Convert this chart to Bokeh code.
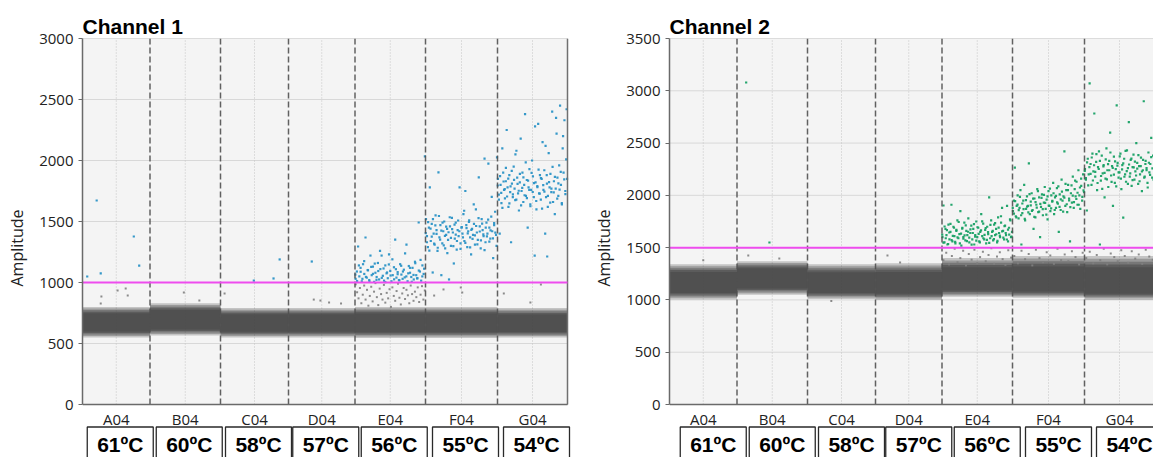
import numpy as np
from bokeh.plotting import figure
from bokeh.models import Range1d, FixedTicker, ColumnDataSource
from bokeh.layouts import row
from bokeh.embed import file_html
from bokeh.resources import INLINE
from bokeh.core.properties import value

# ---------------- data ----------------
wells = ["A04", "B04", "C04", "D04", "E04", "F04", "G04"]
temps = ["61ºC", "60ºC", "58ºC", "57ºC", "56ºC", "55ºC", "54ºC"]
droplets = [13500, 14100, 13600, 13300, 14100, 14400, 14000]

# Channel 1 negative droplet band (amplitude)
ch1_neg_center = [670, 690, 665, 665, 665, 665, 660]
ch1_neg_low = [550, 565, 550, 550, 545, 545, 550]
ch1_neg_high = [800, 830, 790, 790, 800, 800, 790]
ch1_threshold = 1000

# Channel 1 positive droplets (amplitudes, left-to-right in event order; two read passes)
ch1_E04_pos = [1030, 1090, 1295, 1050, 1120, 1010, 1150, 1070, 1369, 1040, 1100, 1020, 1221, 1060,
               1130, 1005, 1080, 1045, 1160, 1025, 1110, 1221, 1055, 1015, 1140, 1075, 1035, 1230,
               1095, 1010, 1060, 1125, 1352, 1040, 1085, 1020, 1150, 1065, 1030, 1105, 1238, 1050,
               1010, 1135, 1080, 1045, 1120, 1025, 1170, 1060, 1035, 1492, 1090, 1015, 1140, 1070, 2033]
ch1_E04_pos_b = [1065, 1012, 1140, 1088, 1030, 1175, 1046, 1102, 1008, 1128, 1071, 1155, 1022, 1094,
                 1260, 1038, 1115, 1003, 1082, 1148, 1057, 1190, 1026, 1109, 1068, 1018, 1137, 1090,
                 1042, 1310, 1075, 1120, 1006, 1062, 1158, 1034, 1098, 1185, 1050, 1113]
ch1_F04_pos = [1520, 1380, 1290, 1450, 1779, 1340, 1480, 1082, 1400, 1310, 1550, 1430, 1260, 1902,
               1370, 1470, 1060, 1320, 1420, 1500, 1280, 1390, 1440, 1350, 1025, 1460, 1300, 1530,
               1410, 1156, 1360, 1490, 1270, 1430, 1380, 1779, 1320, 1450, 1400, 1560, 1340, 1750,
               1470, 1290, 1420, 1510, 1370, 1230, 1440, 1390, 1480, 1310, 1600, 1410, 1350, 1861,
               1460, 1280, 1520, 1430, 1380, 2016, 1330, 1490, 1400, 1975, 1450, 1360, 1540, 1420,
               1200, 1470, 1580, 1390, 2025]
ch1_F04_pos_b = [1405, 1330, 1495, 1262, 1442, 1376, 1520, 1318, 1468, 1398, 1285, 1545, 1352, 1426,
                 1490, 1305, 1382, 1458, 1240, 1412, 1535, 1366, 1438, 1298, 1475, 1392, 1340, 1508,
                 1420, 1275, 1454, 1370, 1588, 1325, 1446, 1402, 1497, 1288, 1432, 1358, 1640, 1386,
                 1463, 1312, 1528, 1418, 1345, 1482, 1395, 1266, 1450, 1378, 1515, 1335, 1428, 1702,
                 1362, 1486, 1408, 1300]
ch1_G04_pos = [1850, 1720, 1400, 1800, 1650, 2100, 1900, 1760, 1690, 1830, 2250, 1780, 1620, 1880,
               1740, 1330, 1810, 1700, 1950, 1770, 2050, 1680, 1860, 1730, 1590, 1820, 2180, 1750,
               1900, 1660, 1800, 2380, 1710, 1840, 1450, 1780, 1930, 1640, 1760, 2000, 1870, 1700,
               1221, 1820, 1600, 1790, 2300, 1730, 1880, 1680, 1850, 2150, 1760, 1920, 1400, 1700,
               1810, 1620, 2060, 1780, 1890, 1740, 2400, 1660, 1830, 1560, 1770, 2220, 1860, 1710,
               1960, 2450, 1800, 1650, 2100, 1900, 2330, 1750, 2010, 1850]
ch1_G04_pos_b = [1795, 1680, 1872, 1735, 1612, 1828, 1766, 1940, 1705, 1852, 1648, 1788, 1915, 1722,
                 1842, 1675, 2080, 1808, 1752, 1890, 1632, 1776, 1862, 1715, 1985, 1692, 1835, 1760,
                 1625, 1898, 1742, 1815, 2280, 1668, 1782, 1925, 1728, 1855, 1605, 1798, 1745, 2120,
                 1880, 1710, 1822, 1655, 1770, 1948, 1738, 1865, 2350, 1688, 1812, 1762, 1906, 1640,
                 2200, 1845, 1725, 2420]
# Channel 1 rain below threshold in E04 (gray)
ch1_E04_rain = [985, 920, 870, 955, 830, 900, 975, 860, 940, 810, 890, 965, 845, 925, 995, 880, 815,
                950, 905, 860, 980, 835, 915, 870, 945, 800, 960, 890, 850, 930, 990, 875, 820, 910,
                955, 865, 940, 895, 830, 975, 905, 850, 925, 880, 960, 840, 900, 970, 860, 935]
# Channel 1 isolated droplets: well index, position in well (0-1), amplitude
ch1_pos_well = [0, 0, 0, 0, 0, 2, 2, 2, 3, 6]
ch1_pos_frac = [0.07, 0.21, 0.27, 0.76, 0.84, 0.49, 0.78, 0.87, 0.35, 0.71]
ch1_pos_amp = [1049, 1672, 1074, 1377, 1139, 1016, 1033, 1189, 1172, 1213]
ch1_gray_well = [0, 0, 0, 0, 0, 1, 1, 2, 3, 3, 3, 3, 5, 5, 5, 5, 6, 6, 6]
ch1_gray_frac = [0.28, 0.52, 0.64, 0.67, 0.27, 0.48, 0.70, 0.06, 0.38, 0.61, 0.48, 0.79,
                 0.12, 0.49, 0.51, 0.25, 0.09, 0.47, 0.62]
ch1_gray_amp = [885, 934, 950, 893, 828, 918, 852, 910, 860, 836, 852, 828, 893, 959, 918, 943,
                910, 836, 984]

# Channel 2 negative droplet band
ch2_neg_center = [1160, 1200, 1150, 1145, 1180, 1170, 1150]
ch2_neg_low = [1005, 1050, 1010, 1000, 1030, 1020, 1000]
ch2_neg_high = [1340, 1370, 1340, 1350, 1400, 1420, 1420]
ch2_threshold = 1500

ch2_E04_pos = [1600, 1903, 1550, 1680, 1620, 1530, 1720, 1580, 1650, 1910, 1560, 1700, 1610, 1540,
               1670, 1760, 1590, 1630, 1850, 1520, 1690, 1600, 1740, 1570, 1660, 1620, 1780, 1550,
               1640, 1710, 1580, 1680, 1530, 1620, 1750, 1600, 1690, 1560, 1650, 1820, 1610, 1730,
               1580, 1670, 1540, 1700, 1630, 1980, 1590, 1760, 1650, 1570, 1720, 1620, 1680, 1550,
               1790, 1640, 1600, 1740, 1880, 1660, 1580, 1710, 1620, 1900, 1560, 1690, 1770, 1600, 1650]
ch2_E04_pos_b = [1625, 1548, 1702, 1590, 1668, 1535, 1645, 1728, 1572, 1612, 1690, 1555, 1660, 1598,
                 1745, 1540, 1635, 1682, 1585, 1618, 1712, 1562, 1652, 1595, 1675, 1528, 1640, 1725,
                 1605, 1568, 1695, 1632, 1550, 1665, 1752, 1590, 1622, 1688, 1575, 1648, 1545, 1718,
                 1610, 1660, 1582, 1735, 1628, 1565, 1692, 1615, 1800, 1655, 1595, 1705, 1640, 1578,
                 1672, 1625, 1760, 1605]
ch2_F04_pos = [1850, 1950, 2266, 1800, 1900, 2000, 1780, 1880, 2050, 1530, 1830, 1950, 2100, 1760,
               1870, 1990, 1900, 2305, 1820, 1940, 2020, 1860, 1680, 1970, 1790, 1910, 2060, 1840,
               1980, 1600, 1890, 2010, 1810, 1930, 2080, 1870, 1960, 1770, 2040, 1900, 1850, 2000,
               1940, 2120, 1820, 1980, 1880, 2070, 1920, 1650, 2010, 1860, 2150, 1950, 1990, 2420,
               1900, 2050, 1840, 2100, 1970, 1560, 2020, 1930, 2180, 1880, 2060, 1990, 2130, 1910,
               2240, 2000, 1870, 2090, 1950, 2200, 2030]
ch2_F04_pos_b = [1880, 1825, 1945, 1790, 1912, 1858, 1985, 1810, 1922, 1868, 1776, 1955, 1892, 1838,
                 2012, 1905, 1852, 1968, 1795, 1935, 1882, 2040, 1845, 1918, 1975, 1868, 2005, 1928,
                 1815, 1990, 1902, 2065, 1875, 1948, 2020, 1860, 1995, 1932, 2085, 1890, 1962, 2035,
                 1845, 1978, 2110, 1915, 2050, 1952, 1888, 2095, 1998, 1935, 2140, 1965, 2025, 1910,
                 2075, 2160, 1985, 2048]
ch2_G04_pos = [2250, 2150, 1855, 2350, 2200, 3070, 2300, 2100, 2400, 2230, 2783, 2180, 2320, 2050,
               2270, 2420, 1530, 2140, 2380, 2210, 2290, 1980, 2160, 2450, 2240, 2080, 2330, 2600,
               2190, 2280, 1900, 2370, 2120, 2250, 2860, 2310, 2170, 2220, 2400, 2060, 2290, 1788,
               2350, 2200, 2130, 2430, 2260, 2700, 2180, 2340, 2090, 2270, 2390, 2150, 2230, 2500,
               2310, 2110, 2280, 2200, 2360, 2040, 2240, 2900, 2180, 2330, 2260, 2120, 2410, 2220,
               2300, 2550, 2170, 2380, 2250]
ch2_G04_pos_b = [2235, 2165, 2315, 2095, 2270, 2205, 2362, 2142, 2288, 2225, 2395, 2118, 2252, 2330,
                 2185, 2062, 2278, 2215, 2345, 2152, 2298, 2240, 2410, 2128, 2262, 2198, 2325, 2085,
                 2285, 2220, 2372, 2160, 2248, 2305, 2178, 2425, 2232, 2110, 2295, 2210, 2352, 2145,
                 2268, 2322, 2190, 2255, 2385, 2135, 2280, 2228, 2340, 2170, 2300, 2242, 2075, 2312,
                 2196, 2365, 2258, 2150]
ch2_E04_rain = [1380, 1450, 1340, 1420, 1490, 1360, 1400, 1470, 1330, 1440, 1385, 1480, 1350, 1410,
                1460, 1370, 1430, 1495, 1345, 1415, 1455, 1390, 1335, 1475, 1405]
ch2_F04_rain = [1420, 1350, 1470, 1390, 1440, 1330, 1480, 1400, 1360, 1455, 1425, 1345, 1490, 1380,
                1435, 1370, 1465, 1410, 1340, 1450]
ch2_G04_rain = [1400, 1460, 1350, 1430, 1380, 1490, 1340, 1445, 1410, 1370, 1475, 1420, 1355, 1465,
                1395, 1435, 1345, 1480, 1415, 1385]
ch2_pos_well = [1, 1]
ch2_pos_frac = [0.13, 0.46]
ch2_pos_amp = [3079, 1549]
ch2_gray_well = [1, 1, 3, 3, 2, 0]
ch2_gray_frac = [0.16, 0.60, 0.18, 0.37, 0.35, 0.50]
ch2_gray_amp = [1425, 1396, 1425, 1358, 990, 1380]

# ---------------- layout helpers ----------------
counts = np.array(droplets, dtype=float)
starts = np.concatenate([[0.0], np.cumsum(counts)[:-1]])
ends = starts + counts
centers = starts + counts / 2.0
TOTAL = float(counts.sum())
PLOT_W = 485            # pixel width of the droplet area
PLOT_H = 366            # pixel height of the amplitude area
FIG_H = 457
TOP = 38
BELOW = FIG_H - TOP - PLOT_H   # pixels below amplitude 0 (labels + boxes)
EPP = TOTAL / PLOT_W    # events per pixel

TICK_FONT = "Open Sans"
BOX_FONT = "Liberation Sans"
BLUE = "#2a92c6"
GREEN = "#17a064"
GRAY_DOT = "#808080"


def cluster_xy(well, amps, phase=0.5):
    n = len(amps)
    xs = [starts[well] + (i + phase) / n * counts[well] for i in range(n)]
    return xs, list(amps)


def outlier_xy(wl, fr, am):
    xs = [starts[w] + f * counts[w] for w, f in zip(wl, fr)]
    return xs, list(am)


def make_main(title, fig_w, b_left, frame_w, ymax, nc, nlo, nhi, thr,
              pos_sets, gray_sets, dot_color, right_line, box_shift):
    upp = ymax / PLOT_H   # amplitude units per pixel
    p = figure(width=fig_w, height=FIG_H, x_range=Range1d(0, frame_w * EPP),
               y_range=Range1d(-BELOW * upp, ymax), min_border_left=b_left,
               min_border_right=fig_w - b_left - frame_w, min_border_top=TOP,
               min_border_bottom=0, toolbar_location=None, output_backend="svg",
               title=title, x_axis_location=None)
    p.title.text_font = BOX_FONT
    p.title.text_font_size = "21px"
    p.title.text_font_style = "bold"
    p.title.text_color = "#000000"
    p.title.offset = 0
    p.title.standoff = 2
    p.background_fill_color = "#ffffff"
    p.border_fill_color = "#ffffff"
    p.outline_line_color = None
    p.grid.visible = False

    # plot area background + border
    p.quad(left=[0], right=[TOTAL], bottom=[0], top=[ymax], fill_color="#f4f4f4",
           line_color="#bcbcbc", line_width=1)
    yt = list(range(500, ymax, 500))
    p.segment(x0=[0] * len(yt), y0=yt, x1=[TOTAL] * len(yt), y1=yt,
              line_color="#d8d8d8", line_width=1)
    p.segment(x0=list(centers), y0=[0] * 7, x1=list(centers), y1=[ymax] * 7,
              line_color="#c4c4c4", line_width=1, line_dash="1 2")

    # negative band, layered for density look
    layers = [(1.0, 0.28), (0.9, 0.33), (0.8, 0.42), (0.7, 0.55), (0.6, 0.6)]
    for t, a in layers:
        src = ColumnDataSource(dict(
            left=starts, right=ends,
            bottom=[c - t * (c - lo) for c, lo in zip(nc, nlo)],
            top=[c + t * (hi - c) for c, hi in zip(nc, nhi)]))
        p.quad(left="left", right="right", bottom="bottom", top="top", source=src,
               fill_color="#474747", fill_alpha=a, line_color=None)

    for xs, ys in gray_sets:
        p.scatter(xs, ys, marker="square", size=2.0, fill_color=GRAY_DOT, line_color=None,
                  fill_alpha=0.9)
    for xs, ys in pos_sets:
        p.scatter(xs, ys, marker="square", size=2.2, fill_color=dot_color, line_color=None,
                  fill_alpha=0.95)

    # well separators
    seps = list(starts[1:])
    p.segment(x0=seps, y0=[0] * len(seps), x1=seps, y1=[ymax] * len(seps),
              line_color="#505050", line_width=1.5, line_dash="6 3", line_alpha=0.9)
    if right_line:
        p.segment(x0=[TOTAL], y0=[0], x1=[TOTAL], y1=[ymax], line_color="#707070",
                  line_width=1.5)
    # threshold
    p.segment(x0=[0], y0=[thr], x1=[TOTAL], y1=[thr], line_color="#ee4cee", line_width=2)
    # bottom axis line
    p.segment(x0=[0], y0=[0], x1=[TOTAL], y1=[0], line_color="#6a6a6a", line_width=1.5)

    # well labels
    p.text(x=list(centers), y=[-14 * upp] * 7, text=wells, text_align="center",
           text_baseline="middle", text_font=value(TICK_FONT), text_font_size="15px",
           text_color="#222222")

    # temperature boxes
    cx = centers + box_shift * EPP
    p.quad(left=cx - 33 * EPP, right=cx + 33 * EPP, bottom=[-(BELOW + 20) * upp] * 7,
           top=[-22.5 * upp] * 7, fill_color="#ffffff", line_color="#2a2a2a",
           line_width=1.3)
    p.text(x=list(cx), y=[-39.5 * upp] * 7, text=temps, text_align="center",
           text_baseline="middle", text_font=value(BOX_FONT), text_font_size="21px",
           text_font_style="bold", text_color="#000000")

    # y axis
    p.yaxis.bounds = (0, ymax)
    p.yaxis.ticker = FixedTicker(ticks=list(range(0, ymax + 1, 500)))
    p.yaxis.minor_tick_out = 0
    p.yaxis.minor_tick_in = 0
    p.yaxis.major_tick_in = 0
    p.yaxis.major_tick_out = 4
    p.yaxis.major_label_standoff = 5
    p.yaxis.axis_line_color = "#6a6a6a"
    p.yaxis.axis_line_width = 1.5
    p.yaxis.major_tick_line_color = "#6a6a6a"
    p.yaxis.axis_label = "Amplitude"
    p.yaxis.axis_label_text_font = TICK_FONT
    p.yaxis.axis_label_text_font_size = "16px"
    p.yaxis.axis_label_text_font_style = "normal"
    p.yaxis.axis_label_text_color = "#222222"
    p.yaxis.axis_label_standoff = 8
    p.yaxis.major_label_text_font = TICK_FONT
    p.yaxis.major_label_text_font_size = "15px"
    p.yaxis.major_label_text_color = "#222222"
    return p


ch1_pos_sets = [cluster_xy(4, ch1_E04_pos), cluster_xy(4, ch1_E04_pos_b, 0.2),
                cluster_xy(5, ch1_F04_pos), cluster_xy(5, ch1_F04_pos_b, 0.2),
                cluster_xy(6, ch1_G04_pos), cluster_xy(6, ch1_G04_pos_b, 0.2),
                outlier_xy(ch1_pos_well, ch1_pos_frac, ch1_pos_amp)]
ch1_gray_sets = [cluster_xy(4, ch1_E04_rain),
                 outlier_xy(ch1_gray_well, ch1_gray_frac, ch1_gray_amp)]
ch2_pos_sets = [cluster_xy(4, ch2_E04_pos), cluster_xy(4, ch2_E04_pos_b, 0.2),
                cluster_xy(5, ch2_F04_pos), cluster_xy(5, ch2_F04_pos_b, 0.2),
                cluster_xy(6, ch2_G04_pos), cluster_xy(6, ch2_G04_pos_b, 0.2),
                outlier_xy(ch2_pos_well, ch2_pos_frac, ch2_pos_amp)]
ch2_gray_sets = [cluster_xy(4, ch2_E04_rain), cluster_xy(5, ch2_F04_rain),
                 cluster_xy(6, ch2_G04_rain),
                 outlier_xy(ch2_gray_well, ch2_gray_frac, ch2_gray_amp)]

p1 = make_main("Channel 1", 590, 82, 500, 3000, ch1_neg_center, ch1_neg_low,
               ch1_neg_high, ch1_threshold, ch1_pos_sets, ch1_gray_sets, BLUE, True, 4)
p2 = make_main("Channel 2", 563, 79, 484, 3500, ch2_neg_center, ch2_neg_low,
               ch2_neg_high, ch2_threshold, ch2_pos_sets, ch2_gray_sets, GREEN, False, 10)

layout = row(p1, p2)
open("out.html", "w").write(file_html(layout, INLINE))
